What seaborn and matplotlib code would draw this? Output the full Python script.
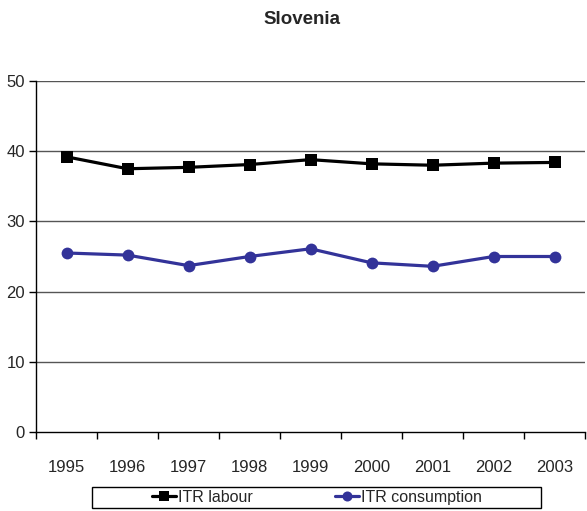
import numpy as np
import pandas as pd
import matplotlib
matplotlib.use("Agg")
import matplotlib.pyplot as plt
import matplotlib.patches as mpatches
import seaborn as sns

# -----------------------------
# DATA
# -----------------------------
years = ["1995", "1996", "1997", "1998", "1999", "2000", "2001", "2002", "2003"]
itr_labour = [39.2, 37.5, 37.7, 38.1, 38.8, 38.2, 38.0, 38.3, 38.4]
itr_consumption = [25.5, 25.2, 23.7, 25.0, 26.1, 24.1, 23.6, 25.0, 25.0]
series_names = ["ITR labour", "ITR consumption"]
y_ticks = [0, 10, 20, 30, 40, 50]

pos = np.arange(len(years))
df = pd.DataFrame({
    "pos": np.concatenate([pos, pos]),
    "value": itr_labour + itr_consumption,
    "series": [series_names[0]] * len(years) + [series_names[1]] * len(years),
})

# -----------------------------
# STYLE
# -----------------------------
sns.set_theme(style="white")
plt.rcParams["font.family"] = ["Liberation Sans Narrow", "Liberation Sans", "DejaVu Sans"]

fig = plt.figure(figsize=(5.87, 5.11), dpi=100)
ax = fig.add_axes([36 / 587, 1 - 432 / 511, 549 / 587, 351 / 511])

sns.lineplot(
    data=df, x="pos", y="value", hue="series", style="series",
    palette={"ITR labour": "black", "ITR consumption": "#333399"},
    markers={"ITR labour": "s", "ITR consumption": "o"},
    dashes=False, linewidth=2.3, markersize=8.5, markeredgewidth=0,
    ax=ax, legend=False,
)

# -----------------------------
# AXES
# -----------------------------
ax.set_xlim(-0.5, len(years) - 0.5)
ax.set_ylim(0, 50)
ax.set_yticks(y_ticks)
ax.set_yticklabels([str(t) for t in y_ticks], fontsize=12)
ax.set_xticks(np.arange(len(years) + 1) - 0.5)
ax.set_xticklabels([])
ax.set_xticks(pos, minor=True)
ax.set_xticklabels(years, minor=True, fontsize=12)
ax.tick_params(axis="x", which="minor", bottom=True, length=0, pad=20)
ax.tick_params(axis="x", which="major", bottom=True, length=5, width=1,
               direction="out", color="black")
ax.tick_params(axis="y", left=True, length=5, width=1, direction="out",
               color="black", pad=3)
ax.set_xlabel("")
ax.set_ylabel("")

for y in y_ticks[1:]:
    ax.axhline(y, color="#555555", linewidth=1, zorder=0)

for side in ["top", "right"]:
    ax.spines[side].set_visible(False)
for side in ["left", "bottom"]:
    ax.spines[side].set_color("black")
    ax.spines[side].set_linewidth(1)

fig.text(0.515, 1 - 20 / 511, "Slovenia", ha="center", va="center",
         fontsize=13.5, fontweight="bold", family=["Liberation Sans", "DejaVu Sans"])

# -----------------------------
# LEGEND (wide box drawn separately)
# -----------------------------
box = mpatches.Rectangle((92 / 587, 1 - 508 / 511), 449 / 587, 21 / 511,
                         transform=fig.transFigure, facecolor="white",
                         edgecolor="black", linewidth=1)
fig.patches.append(box)

lines = ax.get_lines()
leg = fig.legend(
    handles=lines[:2], labels=series_names, ncol=2,
    loc="center", bbox_to_anchor=(317 / 587, 1 - 497.5 / 511),
    frameon=False, fontsize=11.5,
    handlelength=1.5, handletextpad=0.1, columnspacing=5.2,
    borderpad=0.2, markerscale=0.85,
)

plt.savefig("out.png", dpi=100)
